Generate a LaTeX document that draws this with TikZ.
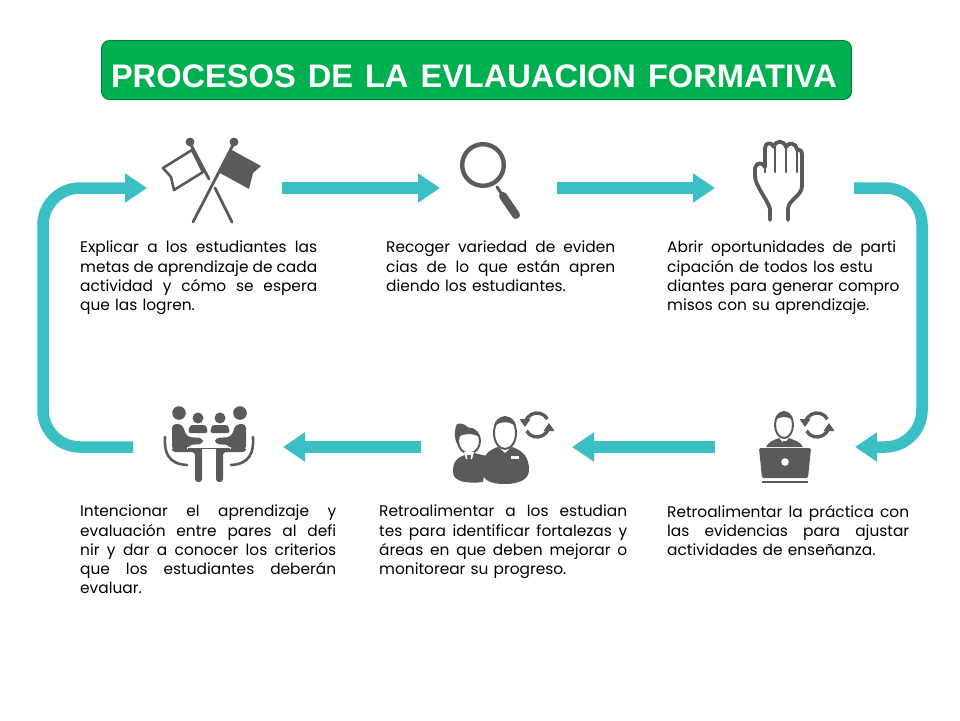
\documentclass[tikz,border=0pt]{standalone}
\usepackage{fontspec}
\setmainfont{Poppins}
\newfontfamily\titlefont{Liberation Sans}
\usetikzlibrary{arrows.meta}
\definecolor{teal1}{HTML}{3ABFC4}
\definecolor{gray1}{HTML}{5A5A5A}
\definecolor{green1}{HTML}{00B050}
\newcommand{\jl}[2]{\makebox[#1pt][s]{\spaceskip=0pt\xspaceskip=0pt #2}}
\tikzset{
  flow/.style={draw=teal1,line width=11.5pt,-{Triangle[length=22pt,width=28pt]}},
  txt/.style={anchor=north west,inner sep=0pt,align=left,text width=300pt,font=\fontsize{15.4}{19.2}\selectfont},
  ico/.style={draw=gray1,line width=2.8pt,line cap=round,line join=round},
  refresh/.pic={
    \draw[gray1,line width=3.4pt] (30:12pt) arc[start angle=30,end angle=165,radius=12pt];
    \draw[gray1,line width=3.4pt] (210:12pt) arc[start angle=210,end angle=345,radius=12pt];
    \fill[gray1] (12pt,2pt) -- (17.5pt,-6pt) -- (6.5pt,-6pt) -- cycle;
    \fill[gray1] (-12pt,-2pt) -- (-17.5pt,6pt) -- (-6.5pt,6pt) -- cycle;
  }
}
\begin{document}
\begin{tikzpicture}[x=1pt,y=-1pt]
\useasboundingbox (0,0) rectangle (960,720);
\fill[white] (0,0) rectangle (960,720);

% title
\node[draw=green1!70!black,line width=0.8pt,fill=green1,rounded corners=8pt,minimum width=750pt,minimum height=59pt,inner sep=0pt] (title) at (476.5,70) {};
\node[inner sep=0pt,text=white] (titletext) at (474,76) {\titlefont\fontsize{32.6}{36}\selectfont\bfseries\makebox[726pt][s]{PROCESOS DE LA EVLAUACION FORMATIVA}};

% connectors
\coordinate (a1s) at (282,188); \coordinate (a1e) at (440,188);
\coordinate (a2s) at (557,188); \coordinate (a2e) at (715,188);
\coordinate (a3s) at (854,188); \coordinate (a3c1) at (922,188); \coordinate (a3c2) at (922,447); \coordinate (a3e) at (855,447);
\coordinate (a4s) at (715,447); \coordinate (a4e) at (572,447);
\coordinate (a5s) at (421,447); \coordinate (a5e) at (283,447);
\coordinate (a6s) at (133,447); \coordinate (a6c1) at (43,447); \coordinate (a6c2) at (43,188); \coordinate (a6e) at (147,188);
\draw[flow] (a1s) -- (a1e);
\draw[flow] (a2s) -- (a2e);
\draw[flow,rounded corners=37pt] (a3s) -- (a3c1) -- (a3c2) -- (a3e);
\draw[flow] (a4s) -- (a4e);
\draw[flow] (a5s) -- (a5e);
\draw[flow,rounded corners=37pt] (a6s) -- (a6c1) -- (a6c2) -- (a6e);

% flags
\draw[ico] (190,143) -- (209,179);
\draw[ico] (215,188) -- (232,222);
\draw[ico] (234,143) -- (193,222);
\fill[gray1] (190,142) circle[radius=4.4pt] (234,142) circle[radius=4.4pt];
\draw[ico,line width=2.6pt,fill=white] (192,150) -- (163,168) -- (171,177) -- (174,190) -- (203,172) -- cycle;
\fill[gray1] (230,149) -- (261,166) -- (253,173) -- (249,189) -- (220,173) -- cycle;

% magnifier
\draw[ico,line width=4.4pt] (483,165) circle[radius=20.8pt];
\draw[ico,line width=3pt] (497,187) -- (503,196);
\draw[ico,line width=8pt] (503,196) -- (516,215);

% hand
\draw[ico,line width=3.8pt] (770,220) -- (770,209) .. controls (768,200) and (755,186) .. (755,176)
  -- (755,168) .. controls (756,162) and (763,162) .. (765,167)
  -- (765,148) .. controls (765,142) and (772,142) .. (774,147)
  .. controls (775,140) and (784,140) .. (786,147)
  .. controls (788,142) and (796,142) .. (797,150)
  .. controls (800,149) and (802,151) .. (802,155)
  -- (802,186) .. controls (802,196) and (788,200) .. (788,209) -- (788,220);
\draw[ico,line width=2.6pt] (765,167) -- (765,172);
\draw[ico,line width=2.6pt] (775,148) -- (775,172);
\draw[ico,line width=2.6pt] (786,148) -- (786,172);
\draw[ico,line width=2.6pt] (797,150) -- (797,172);

% meeting
\fill[gray1] (179,413) circle[radius=6.8pt] (240,413) circle[radius=6.8pt] (198,418) circle[radius=5.5pt] (220,418) circle[radius=5.5pt];
\fill[gray1,rounded corners=2.5pt] (188,433) -- (190,425) -- (206,425) -- (208,433) -- cycle;
\fill[gray1,rounded corners=2.5pt] (210,433) -- (212,425) -- (228,425) -- (230,433) -- cycle;
\fill[gray1,rounded corners=4pt] (172,450) -- (172,424) -- (182,424) -- (187,437) -- (203,438) -- (203,444) -- (188,445) -- (188,450) -- cycle;
\fill[gray1,rounded corners=4pt] (246,450) -- (246,424) -- (236,424) -- (231,437) -- (215,438) -- (215,444) -- (230,445) -- (230,450) -- cycle;
\fill[gray1,rounded corners=3pt] (172,447) -- (202,447) -- (202,482) -- (195,482) -- (195,452) -- (172,452) -- cycle;
\fill[gray1,rounded corners=3pt] (246,447) -- (216,447) -- (216,482) -- (223,482) -- (223,452) -- (246,452) -- cycle;
\draw[white,line width=1.4pt] (187,448) -- (231,448);
\draw[gray1,line width=1pt] (188,448) -- (230,448);
\draw[ico,line width=2.6pt] (165,437) .. controls (164,452) and (168,464) .. (187,465);
\draw[ico,line width=2.6pt] (253,437) .. controls (254,452) and (250,464) .. (231,465);

% teacher and student
\fill[gray1] (483,482) .. controls (468,484) and (453,482) .. (453,472) .. controls (453,460) and (457,456) .. (474,453) -- (487,456) -- cycle;
\fill[gray1] (457,424) .. controls (462,422) and (468,426) .. (470,430) .. controls (462,432) and (459,438) .. (459,446) .. controls (455,443) and (453,432) .. (457,424) -- cycle;
\draw[ico,line width=2pt,fill=white] (469,441) ellipse[x radius=11pt,y radius=12.5pt];
\fill[gray1] (458,437) .. controls (460,428) and (478,426) .. (480,437) .. controls (472,433) and (465,433) .. (458,437) -- cycle;
\fill[white] (464,452) -- (474,452) -- (472,459) -- (466,459) -- cycle;
\fill[gray1] (467,455) -- (471,455) -- (470,464) -- (468,464) -- cycle;
\fill[gray1] (505,484) .. controls (490,484) and (482,480) .. (482,470) .. controls (482,456) and (488,450) .. (498,447) -- (505,453) -- (512,447) .. controls (524,451) and (529,458) .. (529,470) .. controls (529,480) and (518,484) .. (505,484) -- cycle;
\fill[white] (511,456) rectangle (519,459);
\draw[ico,line width=2pt,fill=white] (505,433) ellipse[x radius=11pt,y radius=16pt];
\fill[gray1] (494,426) .. controls (495,414) and (515,414) .. (516,426) .. controls (508,421) and (502,421) .. (494,426) -- cycle;
\pic at (537,425) {refresh};

% laptop person
\fill[gray1] (766,447) .. controls (768,442) and (774,440) .. (779,438) -- (784,444) -- (789,438) .. controls (794,440) and (801,442) .. (803,447) -- cycle;
\draw[ico,line width=2pt,fill=white] (784,425) ellipse[x radius=9pt,y radius=13pt];
\fill[gray1] (775,420) .. controls (776,409) and (792,409) .. (793,420) .. controls (788,416) and (780,416) .. (775,420) -- cycle;
\fill[gray1] (783,441) rectangle (786,447);
\fill[gray1,rounded corners=1.5pt] (759,448) -- (811,448) -- (808,478) -- (762,478) -- cycle;
\fill[white] (785,462) circle[radius=3.8pt];
\fill[gray1] (762,480.5) rectangle (808,483);
\pic at (817,425) {refresh};

% texts
\node[txt] (t1) at (80,241) {\jl{237}{Explicar a los estudiantes las}\\\jl{237}{metas de aprendizaje de cada}\\\jl{237}{actividad y cómo se espera}\\que las logren.};
\node[txt] (t2) at (386,241) {\jl{229}{Recoger variedad de eviden}\\\jl{229}{cias de lo que están apren}\\diendo los estudiantes.};
\node[txt] (t3) at (667,241) {\jl{229}{Abrir oportunidades de parti}\\cipación de todos los estu\\diantes para generar compro\\misos con su aprendizaje.};
\node[txt] (t4) at (667,505) {\jl{242}{Retroalimentar la práctica con}\\\jl{242}{las evidencias para ajustar}\\actividades de enseñanza.};
\node[txt] (t5) at (379,505) {\jl{248}{Retroalimentar a los estudian}\\\jl{248}{tes para identificar fortalezas y}\\\jl{248}{áreas en que deben mejorar o}\\monitorear su progreso.};
\node[txt] (t6) at (80,505) {\jl{256}{Intencionar el aprendizaje y}\\\jl{256}{evaluación entre pares al defi}\\\jl{256}{nir y dar a conocer los criterios}\\\jl{256}{que los estudiantes deberán}\\evaluar.};
\end{tikzpicture}
\end{document}
